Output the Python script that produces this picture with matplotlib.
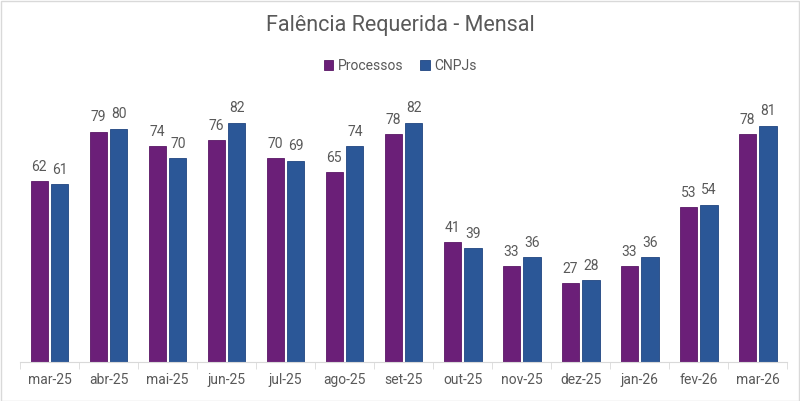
import numpy as np
import matplotlib
matplotlib.use("Agg")
import matplotlib.pyplot as plt
from matplotlib.patches import Rectangle

plt.rcParams['font.family'] = ['Roboto', 'DejaVu Sans']

meses = ["mar-25", "abr-25", "mai-25", "jun-25", "jul-25", "ago-25", "set-25",
         "out-25", "nov-25", "dez-25", "jan-26", "fev-26", "mar-26"]
processos = [62, 79, 74, 76, 70, 65, 78, 41, 33, 27, 33, 53, 78]
cnpjs = [61, 80, 70, 82, 69, 74, 82, 39, 36, 28, 36, 54, 81]

cor_proc = "#6B1F78"
cor_cnpj = "#2B5797"
cinza = "#595959"

fig = plt.figure(figsize=(8, 4.01), dpi=100)
ax = fig.add_axes([0.025, 0.097, 0.959, 0.655])

x = np.arange(len(meses))
w = 0.29
b1 = ax.bar(x - w/2 - 0.03, processos, w, color=cor_proc, edgecolor="#5a1766", linewidth=0.6, label="Processos")
b2 = ax.bar(x + w/2 + 0.03, cnpjs, w, color=cor_cnpj, edgecolor="#1f4580", linewidth=0.6, label="CNPJs")

for bars in (b1, b2):
    for r in bars:
        ax.text(r.get_x() + r.get_width()/2, r.get_height() + 2.5, f"{int(r.get_height())}",
                ha="center", va="bottom", fontsize=10, color=cinza)

ax.set_xlim(-0.5, len(meses) - 0.5)
ax.set_ylim(0, 90)
ax.set_yticks([])
for s in ["top", "right", "left"]:
    ax.spines[s].set_visible(False)
ax.spines["bottom"].set_color("#d9d9d9")
ax.set_xticks(x)
ax.set_xticklabels(meses, fontsize=10, color=cinza)
ax.tick_params(axis="x", length=0, pad=8)
ax.set_xticks(np.arange(-0.5, len(meses)), minor=True)
ax.tick_params(axis="x", which="minor", length=5, color="#d9d9d9")

fig.text(0.5, 0.937, "Falência Requerida - Mensal", ha="center", va="center", fontsize=15.5, color=cinza)
fig.legend(handles=[b1, b2], loc="center", bbox_to_anchor=(0.5, 0.835), ncol=2, frameon=False,
           fontsize=10, labelcolor=cinza, handlelength=0.7, handleheight=0.7, handletextpad=0.3, columnspacing=1.2)

fig.patches.append(Rectangle((0.001, 0.001), 0.998, 0.997, transform=fig.transFigure,
                             fill=False, edgecolor="#d9d9d9", linewidth=1))

fig.savefig("out.png", dpi=100)
